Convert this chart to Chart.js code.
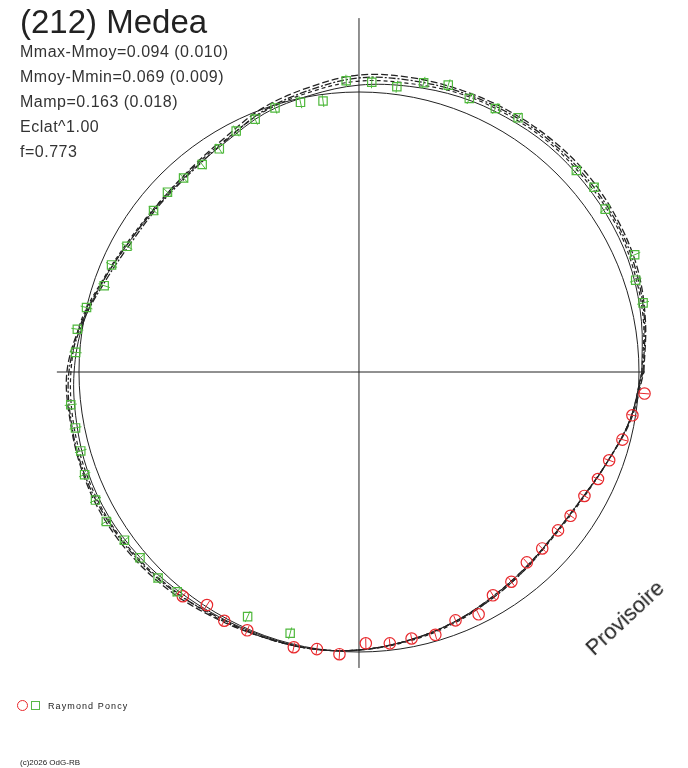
<!DOCTYPE html>
<html>
<head>
<meta charset="utf-8">
<script src="https://cdn.jsdelivr.net/npm/chart.js@4.4.1/dist/chart.umd.min.js"></script>
<style>
body { margin: 0; background: #fff; }
#wrap { position: relative; width: 688px; height: 768px; font-family: "Liberation Sans", Arial, sans-serif; color: #222; overflow: hidden; }
canvas { position: absolute; left: 0; top: 0; }
.t { position: absolute; white-space: nowrap; }
</style>
</head>
<body>
<div id="wrap">
<canvas id="polar" width="688" height="768"></canvas>
<div class="t" style="left:20px;top:4.5px;font-size:33px;line-height:33px;">(212) Medea</div>
<div class="t" style="left:20px;top:38.5px;font-size:16px;line-height:25px;letter-spacing:0.5px;color:#333;">
Mmax-Mmoy=0.094 (0.010)<br>Mmoy-Mmin=0.069 (0.009)<br>Mamp=0.163 (0.018)<br>Eclat^1.00<br>f=0.773
</div>
<div class="t" style="left:625px;top:618px;font-size:22px;line-height:22px;transform:translate(-50%,-50%) rotate(-43deg);">Provisoire</div>
<span class="t" style="left:17px;top:700px;width:9px;height:9px;border:1px solid #e8282c;border-radius:50%;"></span>
<span class="t" style="left:31px;top:701px;width:7px;height:7px;border:1px solid #5ab946;"></span>
<div class="t" style="left:48px;top:701.5px;font-size:9px;line-height:9px;letter-spacing:1.1px;">Raymond Poncy</div>
<div class="t" style="left:20px;top:759px;font-size:8px;line-height:8px;">(c)2026 OdG-RB</div>
</div>
<script>
// phases (0-1) et magnitudes relatives (mag - mag moyenne)
const greenPhase = [0.038, 0.051, 0.064, 0.093, 0.106, 0.119, 0.161, 0.174, 0.189, 0.202, 0.215, 0.229, 0.243, 0.257,
    0.271, 0.284, 0.299, 0.312, 0.325, 0.339, 0.353, 0.367, 0.380, 0.394, 0.421, 0.435, 0.448, 0.463, 0.476, 0.489,
    0.518, 0.531, 0.544, 0.557, 0.572, 0.585, 0.599, 0.612, 0.627, 0.640, 0.682, 0.709];
const greenMag = [-0.043, -0.040, -0.068, -0.053, -0.066, -0.057, -0.069, -0.058, -0.052, -0.071, -0.057, -0.027, -0.035, -0.040,
    0.023, 0.014, 0.010, 0.023, 0.033, 0.058, 0.069, 0.064, 0.060, 0.065, 0.056, 0.036, 0.038, 0.000, -0.017, -0.014,
    -0.035, -0.031, -0.032, -0.045, -0.045, -0.047, -0.030, -0.025, -0.027, -0.018, 0.039, 0.034];

const redPhase = [0.644, 0.658, 0.671, 0.685, 0.713, 0.726, 0.739, 0.754, 0.768, 0.781, 0.795, 0.809, 0.823,
    0.836, 0.850, 0.865, 0.878, 0.893, 0.905, 0.920, 0.933, 0.946, 0.960, 0.975, 0.988];
const redMag = [-0.018, 0.006, -0.010, -0.005, -0.010, -0.001, -0.010, 0.030, 0.024, 0.029, 0.022, 0.047, 0.034,
    0.068, 0.072, 0.091, 0.089, 0.089, 0.084, 0.079, 0.063, 0.051, 0.028, 0.011, -0.022];

const greenErr = 0.021;
const redErr = 0.017;

// courbes ajustees (plusieurs ordres)
const fitPhase = [0, 0.028, 0.056, 0.083, 0.111, 0.139, 0.167, 0.194, 0.222, 0.25, 0.278, 0.306, 0.333, 0.361, 0.389, 0.417, 0.444, 0.472,
    0.5, 0.528, 0.556, 0.583, 0.611, 0.639, 0.667, 0.694, 0.722, 0.75, 0.778, 0.806, 0.833, 0.861, 0.889, 0.917, 0.944, 0.972];
const fitA = [-0.010, -0.024, -0.038, -0.045, -0.049, -0.052, -0.049, -0.045, -0.035, -0.024, -0.003, 0.017, 0.049, 0.063, 0.066, 0.056, 0.031, 0.000,
    -0.017, -0.024, -0.031, -0.031, -0.024, -0.014, -0.007, -0.003, -0.003, 0.007, 0.024, 0.042, 0.063, 0.080, 0.090, 0.083, 0.056, 0.017];
const fitB = [-0.017, -0.038, -0.059, -0.069, -0.076, -0.076, -0.073, -0.069, -0.066, -0.059, -0.031, -0.003, 0.035, 0.056, 0.063, 0.056, 0.031, -0.007,
    -0.042, -0.045, -0.049, -0.049, -0.042, -0.031, -0.017, -0.007, -0.003, 0.007, 0.024, 0.042, 0.063, 0.080, 0.090, 0.083, 0.056, 0.014];
const fitC = [-0.014, -0.035, -0.052, -0.062, -0.066, -0.069, -0.066, -0.062, -0.056, -0.049, -0.021, 0.007, 0.045, 0.066, 0.069, 0.063, 0.038, -0.003,
    -0.035, -0.042, -0.045, -0.042, -0.035, -0.024, -0.010, -0.007, -0.003, 0.007, 0.024, 0.042, 0.059, 0.076, 0.090, 0.083, 0.056, 0.017];
const fitD = [-0.010, -0.031, -0.045, -0.056, -0.059, -0.062, -0.059, -0.056, -0.045, -0.038, -0.014, 0.010, 0.042, 0.059, 0.062, 0.052, 0.028, -0.010,
    -0.028, -0.035, -0.038, -0.038, -0.031, -0.021, -0.014, -0.007, -0.003, 0.007, 0.021, 0.038, 0.059, 0.076, 0.087, 0.080, 0.056, 0.017];

// axes du graphe polaire (en rayons du cercle de reference)
const axisH = [-1.079, 1.021];
const axisV = [-1.057, 1.264];

const magScale = 1.0286; // rayon par magnitude
const green = '#4fb83c';
const red = '#e8282c';
const ink = '#222';

function toXY(phase, mag) {
    const rho = 1 - mag * magScale;
    const a = phase * 2 * Math.PI;
    return { x: rho * Math.cos(a), y: rho * Math.sin(a) };
}

function curve(mags) {
    const pts = fitPhase.map((p, i) => toXY(p, mags[i]));
    pts.push(pts[0]);
    return pts;
}

function fitSet(mags, dash, width) {
    return {
        data: curve(mags),
        showLine: true,
        pointRadius: 0,
        borderColor: ink,
        borderWidth: width,
        borderDash: dash,
        tension: 0.35,
        fill: false
    };
}

// cercle de reference + barres d'erreur radiales
const polarExtras = {
    id: 'polarExtras',
    beforeDatasetsDraw(chart) {
        const ctx = chart.ctx;
        const xs = chart.scales.x, ys = chart.scales.y;
        const cx = xs.getPixelForValue(0), cy = ys.getPixelForValue(0);
        const r = xs.getPixelForValue(1) - cx;
        ctx.save();
        ctx.strokeStyle = ink;
        ctx.lineWidth = 1;
        ctx.beginPath();
        ctx.arc(cx, cy, r, 0, Math.PI * 2);
        ctx.stroke();
        ctx.restore();
    },
    afterDatasetsDraw(chart) {
        const ctx = chart.ctx;
        const xs = chart.scales.x, ys = chart.scales.y;
        const bars = [[greenPhase, greenMag, greenErr, green], [redPhase, redMag, redErr, red]];
        ctx.save();
        ctx.lineWidth = 1;
        bars.forEach(([ph, mg, err, col]) => {
            ctx.strokeStyle = col;
            ph.forEach((p, i) => {
                const a = toXY(p, mg[i] - err), b = toXY(p, mg[i] + err);
                ctx.beginPath();
                ctx.moveTo(xs.getPixelForValue(a.x), ys.getPixelForValue(a.y));
                ctx.lineTo(xs.getPixelForValue(b.x), ys.getPixelForValue(b.y));
                ctx.stroke();
            });
        });
        ctx.restore();
    }
};

const ctx = document.getElementById('polar').getContext('2d');
const polarChart = new Chart(ctx, {
    type: 'scatter',
    data: {
        datasets: [
            {
                label: 'Raymond Poncy',
                data: greenPhase.map((p, i) => toXY(p, greenMag[i])),
                pointStyle: 'rect',
                pointRadius: 5.9,
                pointBorderWidth: 1.2,
                borderColor: green,
                backgroundColor: 'rgba(0,0,0,0)'
            },
            {
                label: 'Raymond Poncy',
                data: redPhase.map((p, i) => toXY(p, redMag[i])),
                pointStyle: 'circle',
                pointRadius: 5.7,
                pointBorderWidth: 1.2,
                borderColor: red,
                backgroundColor: 'rgba(0,0,0,0)'
            },
            fitSet(fitA, [], 1),
            fitSet(fitB, [7, 3], 1.3),
            fitSet(fitC, [7, 2, 2, 2], 1.3),
            fitSet(fitD, [4, 3], 1.2),
            {
                data: [{ x: axisH[0], y: 0 }, { x: axisH[1], y: 0 }],
                showLine: true, pointRadius: 0, borderColor: ink, borderWidth: 1
            },
            {
                data: [{ x: 0, y: axisV[0] }, { x: 0, y: axisV[1] }],
                showLine: true, pointRadius: 0, borderColor: ink, borderWidth: 1
            }
        ]
    },
    options: {
        responsive: false,
        animation: false,
        layout: { padding: 0, autoPadding: false },
        plugins: {
            legend: { display: false },
            tooltip: { enabled: false }
        },
        scales: {
            x: { type: 'linear', display: false, min: -1.2821, max: 1.175 },
            y: { type: 'linear', display: false, min: -1.4143, max: 1.3286 }
        }
    },
    plugins: [polarExtras]
});
</script>
</body>
</html>
